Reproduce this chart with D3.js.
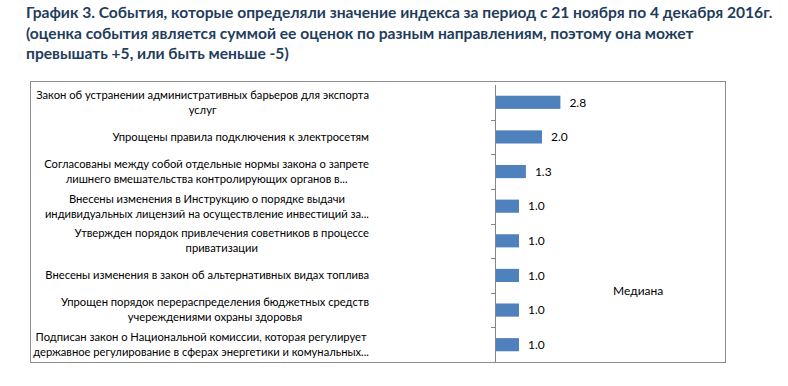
<!DOCTYPE html>
<html>
<head>
<meta charset="utf-8">
<script src="https://cdn.jsdelivr.net/npm/d3@7"></script>
<style>
  body { margin: 0; background: #fff; }
  svg { display: block; }
  text { font-family: Lato, "Open Sans", sans-serif; }
</style>
</head>
<body>
<svg id="svg" width="788" height="386"></svg>
<script>
const titleLines = [
    "График 3. События, которые определяли значение индекса за период с 21 ноября по 4 декабря 2016г.",
    "(оценка события является суммой ее оценок по разным направлениям, поэтому она может",
    "превышать +5, или быть меньше -5)"
];

const categories = [
    ["Закон об устранении административных барьеров для экспорта", "услуг"],
    ["Упрощены правила подключения к электросетям"],
    ["Согласованы между собой отдельные нормы закона о запрете", "лишнего вмешательства контролирующих органов в..."],
    ["Внесены изменения в Инструкцию о порядке выдачи", "индивидуальных лицензий на осуществление инвестиций за..."],
    ["Утвержден порядок привлечения советников в процессе", "приватизации"],
    ["Внесены изменения в закон об альтернативных видах топлива"],
    ["Упрощен порядок перераспределения бюджетных средств", "учереждениями охраны здоровья"],
    ["Подписан закон о Национальной комиссии, которая регулирует", "державное регулирование в сферах энергетики и комунальных..."]
];

const values = [2.8, 2.0, 1.3, 1.0, 1.0, 1.0, 1.0, 1.0];

const legendLabel = "Медиана";

draw();

function draw(
    {
        boxLeft = 30,
        boxTop = 81,
        boxRight = 725,
        boxBottom = 362,
        axisX = 495,
        plotTop = 85,
        labelRight = 369,
        lineHeight = 15,
        barColor = "#4f81bd",
        titleColor = "#1f3d5c"
    } = {}
) {
    const svg = d3.select("#svg");

    // title
    svg.append("g")
        .selectAll("text")
        .data(titleLines)
        .join("text")
        .attr("x", 26)
        .attr("y", (d, i) => 18 + i * 20.5)
        .attr("font-size", 15.6)
        .attr("font-weight", 700)
        .attr("fill", titleColor)
        .text(d => d);

    // chart frame
    svg.append("rect")
        .attr("x", boxLeft + 0.5)
        .attr("y", boxTop + 0.5)
        .attr("width", boxRight - boxLeft)
        .attr("height", boxBottom - boxTop)
        .attr("fill", "#fff")
        .attr("stroke", "#8c8c8c")
        .attr("stroke-width", 1);

    const y = d3.scaleBand()
        .domain(d3.range(categories.length))
        .range([plotTop, boxBottom])
        .paddingInner(0.62)
        .paddingOuter(0.31);

    const yEdge = d3.scaleLinear()
        .domain([0, categories.length])
        .range([plotTop, boxBottom]);

    const x = d3.scaleLinear()
        .domain([0, 10])
        .range([axisX, boxRight]);

    // axis line + ticks between categories
    const axis = svg.append("g");
    axis.append("line")
        .attr("x1", axisX + 0.5)
        .attr("x2", axisX + 0.5)
        .attr("y1", plotTop)
        .attr("y2", boxBottom)
        .attr("stroke", "#868686");
    axis.selectAll("line.tick")
        .data(d3.range(1, categories.length))
        .join("line")
        .attr("class", "tick")
        .attr("x1", axisX - 4)
        .attr("x2", axisX)
        .attr("y1", d => Math.round(yEdge(d)) + 0.5)
        .attr("y2", d => Math.round(yEdge(d)) + 0.5)
        .attr("stroke", "#868686");

    // bars
    svg.append("g")
        .selectAll("rect")
        .data(values)
        .join("rect")
        .attr("x", x(0) + 1)
        .attr("y", (d, i) => y(i))
        .attr("width", d => x(d) - x(0))
        .attr("height", y.bandwidth())
        .attr("fill", barColor);

    // value labels
    svg.append("g")
        .selectAll("text")
        .data(values)
        .join("text")
        .attr("x", d => x(d) + 10)
        .attr("y", (d, i) => y(i) + y.bandwidth() / 2)
        .attr("dy", "0.35em")
        .attr("font-size", 12)
        .attr("fill", "#000")
        .text(d => d.toFixed(1));

    // category labels: lines centred inside a block that is right-aligned
    const catLabel = svg.append("g")
        .selectAll("text")
        .data(categories)
        .join("text")
        .attr("text-anchor", "middle")
        .attr("font-size", 11.2)
        .attr("fill", "#000");

    catLabel.each(function(lines, i) {
        const center = y(i) + y.bandwidth() / 2;
        const start = center - (lines.length - 1) * lineHeight / 2;
        const spans = d3.select(this)
            .selectAll("tspan")
            .data(lines)
            .join("tspan")
            .attr("y", (d, j) => start + j * lineHeight)
            .attr("dy", "0.35em")
            .text(d => d);
        const maxW = d3.max(spans.nodes(), n => n.getComputedTextLength());
        spans.attr("x", labelRight - maxW / 2);
    });

    // legend (median series has no visible mark)
    svg.append("text")
        .attr("x", 613)
        .attr("y", 291)
        .attr("dy", "0.35em")
        .attr("font-size", 12)
        .attr("fill", "#000")
        .text(legendLabel);
}
</script>
</body>
</html>
